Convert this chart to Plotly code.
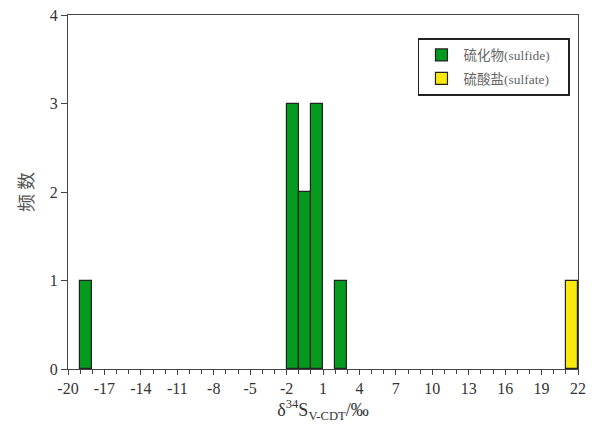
import plotly.graph_objects as go

# bin centres (width 1 ‰) and counts
sulfide_bins = [-18.5, -1.5, -0.5, 0.5, 2.5]
sulfide_counts = [1, 3, 2, 3, 1]
sulfate_bins = [21.5]
sulfate_counts = [1]
x_ticks = [-20, -17, -14, -11, -8, -5, -2, 1, 4, 7, 10, 13, 16, 19, 22]
y_ticks = [0, 1, 2, 3, 4]

serif = "Liberation Serif, Times New Roman, Noto Sans CJK SC, serif"
axis_col = "#444444"
pad = "&nbsp;" * 4

fig = go.Figure()
fig.add_trace(go.Bar(x=sulfide_bins, y=sulfide_counts, width=1,
                     name="硫化物(sulfide)" + pad, legendgroup="a",
                     marker=dict(color="#049a1e", line=dict(color="#222222", width=1.2))))
fig.add_trace(go.Bar(x=sulfate_bins, y=sulfate_counts, width=1,
                     name="硫酸盐(sulfate)" + pad, legendgroup="b",
                     marker=dict(color="#fbe90d", line=dict(color="#222222", width=1.2))))

fig.update_layout(
    width=581, height=420,
    margin=dict(l=60, r=11, t=7, b=59, autoexpand=False),
    paper_bgcolor="white", plot_bgcolor="white",
    barmode="overlay", bargap=0,
    font=dict(family=serif, size=16, color="#333333"),
    legend=dict(x=0.686, y=0.935, xanchor="left", yanchor="top",
                bordercolor="#222222", borderwidth=1.6, bgcolor="white",
                font=dict(family="Liberation Serif, Noto Sans CJK SC, serif", size=13.5, color="#666666"),
                traceorder="grouped", tracegroupgap=3,
                itemwidth=34),
    xaxis=dict(range=[-20, 22], tickvals=x_ticks, ticktext=[str(v) for v in x_ticks],
               ticks="outside", ticklen=5, tickcolor=axis_col, tickwidth=1,
               showline=True, linecolor=axis_col, linewidth=1.2, mirror=True,
               showgrid=False, zeroline=False, automargin=False, ticklabeloverflow="allow",
               minor=dict(dtick=1, tick0=-20, ticks="outside", ticklen=4, tickcolor=axis_col, showgrid=False),
               tickfont=dict(size=16, color="#333333"),
               title=dict(text="δ<sup>34</sup>S<sub>V-CDT</sub>/‰", font=dict(size=18, color="#333333"), standoff=4)),
    yaxis=dict(range=[0, 4], tickvals=y_ticks,
               ticks="outside", ticklen=6, tickcolor=axis_col, tickwidth=1,
               showline=True, linecolor=axis_col, linewidth=1.2, mirror=True,
               showgrid=False, zeroline=False, automargin=False, ticklabeloverflow="allow",
               tickfont=dict(size=16, color="#333333"),
               title=dict(text="频 数", font=dict(family="Noto Sans CJK SC, serif", size=18, color="#555555"), standoff=11)),
)

fig.write_html("out.html")
